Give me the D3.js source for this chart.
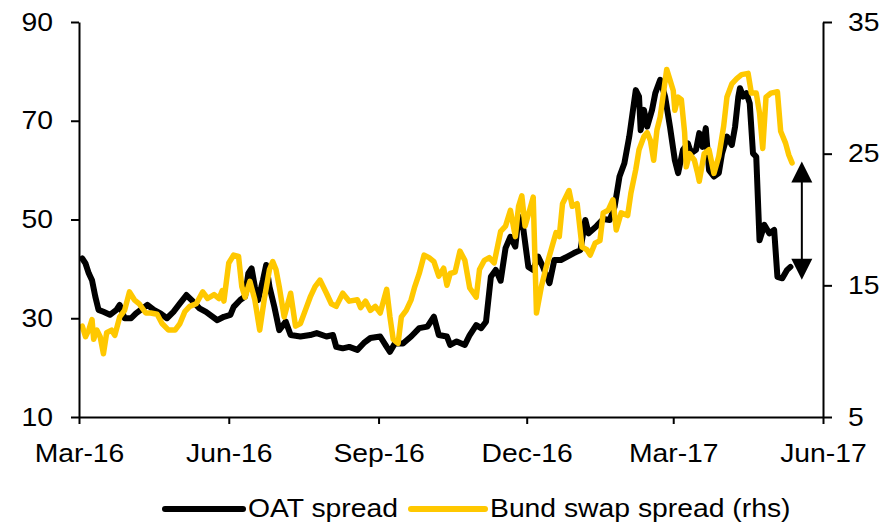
<!DOCTYPE html>
<html>
<head>
<meta charset="utf-8">
<script src="https://cdn.jsdelivr.net/npm/d3@7"></script>
<style>
  body { margin: 0; background: #fff; }
  svg text { font-family: "Liberation Sans", Arial, sans-serif; font-size: 25.5px; fill: #000; }
</style>
</head>
<body>
<div id="chart"></div>
<script>
// OAT spread (lhs, bp)
const oatDates = ["2016-03-03","2016-03-05","2016-03-07","2016-03-09","2016-03-11","2016-03-13","2016-03-16","2016-03-20","2016-03-24","2016-03-26","2016-03-29","2016-04-02","2016-04-05","2016-04-12","2016-04-16","2016-04-20","2016-04-24","2016-04-28","2016-05-02","2016-05-06","2016-05-10","2016-05-14","2016-05-18","2016-05-25","2016-05-29","2016-06-02","2016-06-04","2016-06-08","2016-06-11","2016-06-13","2016-06-15","2016-06-17","2016-06-19","2016-06-22","2016-06-24","2016-06-26","2016-06-29","2016-07-02","2016-07-06","2016-07-09","2016-07-15","2016-07-21","2016-07-25","2016-07-31","2016-08-04","2016-08-06","2016-08-10","2016-08-14","2016-08-19","2016-08-23","2016-08-27","2016-09-02","2016-09-06","2016-09-08","2016-09-11","2016-09-16","2016-09-21","2016-09-26","2016-10-01","2016-10-05","2016-10-08","2016-10-13","2016-10-15","2016-10-19","2016-10-24","2016-10-27","2016-10-31","2016-11-03","2016-11-06","2016-11-09","2016-11-12","2016-11-15","2016-11-18","2016-11-21","2016-11-24","2016-11-26","2016-11-29","2016-12-02","2016-12-05","2016-12-08","2016-12-11","2016-12-15","2016-12-18","2016-12-22","2016-12-26","2016-12-30","2017-01-03","2017-01-06","2017-01-08","2017-01-13","2017-01-17","2017-01-21","2017-01-24","2017-01-27","2017-01-30","2017-02-02","2017-02-06","2017-02-08","2017-02-09","2017-02-11","2017-02-13","2017-02-16","2017-02-18","2017-02-21","2017-02-24","2017-02-27","2017-03-02","2017-03-04","2017-03-07","2017-03-10","2017-03-12","2017-03-15","2017-03-17","2017-03-19","2017-03-21","2017-03-23","2017-03-26","2017-03-29","2017-03-31","2017-04-03","2017-04-06","2017-04-08","2017-04-10","2017-04-11","2017-04-13","2017-04-15","2017-04-17","2017-04-19","2017-04-21","2017-04-23","2017-04-26","2017-04-29","2017-05-02","2017-05-04","2017-05-07","2017-05-10","2017-05-12"];
const oatValues = [42.1,41.1,39.1,37.7,34.4,31.7,31.3,30.7,31.7,32.7,30.0,30.0,31.0,32.7,31.7,31.0,30.0,31.3,33.0,34.7,33.4,32.0,31.3,29.6,30.3,30.7,32.3,33.7,34.4,39.1,40.1,36.4,33.7,37.7,40.8,36.4,32.3,27.6,29.3,26.6,26.3,26.6,27.0,26.3,26.6,24.2,23.9,24.2,23.6,25.0,26.0,26.3,24.2,23.2,24.9,24.9,26.3,28.0,28.3,30.3,26.6,26.3,24.6,25.3,24.6,26.6,28.6,28.0,29.3,38.4,39.8,37.6,44.2,46.5,44.5,50.6,47.9,40.4,39.8,42.5,40.4,37.1,41.8,41.8,42.5,43.2,43.8,49.9,47.2,48.7,50.1,49.9,52.6,58.7,61.4,66.8,76.2,74.9,68.1,72.2,68.8,72.2,75.6,78.3,74.9,68.8,62.0,59.4,64.1,65.4,63.4,64.1,67.5,64.7,68.5,60.0,58.7,59.4,63.4,66.8,65.1,68.8,74.9,76.6,74.9,75.6,73.5,63.4,62.7,45.8,48.9,47.2,47.9,38.4,38.1,39.8,40.4];

// Bund swap spread (rhs, bp)
const bundDates = ["2016-03-03","2016-03-05","2016-03-07","2016-03-09","2016-03-10","2016-03-12","2016-03-14","2016-03-16","2016-03-18","2016-03-21","2016-03-23","2016-03-26","2016-03-29","2016-04-01","2016-04-04","2016-04-07","2016-04-11","2016-04-14","2016-04-18","2016-04-21","2016-04-25","2016-04-29","2016-05-02","2016-05-05","2016-05-08","2016-05-12","2016-05-16","2016-05-19","2016-05-23","2016-05-26","2016-05-28","2016-05-29","2016-06-01","2016-06-04","2016-06-07","2016-06-09","2016-06-11","2016-06-14","2016-06-17","2016-06-20","2016-06-23","2016-06-26","2016-06-28","2016-06-30","2016-07-02","2016-07-05","2016-07-09","2016-07-12","2016-07-15","2016-07-18","2016-07-21","2016-07-24","2016-07-27","2016-07-31","2016-08-03","2016-08-06","2016-08-10","2016-08-14","2016-08-19","2016-08-21","2016-08-24","2016-08-27","2016-08-30","2016-09-02","2016-09-06","2016-09-08","2016-09-10","2016-09-13","2016-09-15","2016-09-18","2016-09-21","2016-09-23","2016-09-26","2016-09-29","2016-10-02","2016-10-05","2016-10-08","2016-10-11","2016-10-13","2016-10-15","2016-10-18","2016-10-21","2016-10-24","2016-10-27","2016-10-31","2016-11-02","2016-11-05","2016-11-08","2016-11-11","2016-11-15","2016-11-18","2016-11-21","2016-11-24","2016-11-26","2016-11-28","2016-11-30","2016-12-03","2016-12-05","2016-12-07","2016-12-10","2016-12-13","2016-12-16","2016-12-19","2016-12-21","2016-12-23","2016-12-27","2016-12-29","2017-01-01","2017-01-04","2017-01-07","2017-01-09","2017-01-12","2017-01-15","2017-01-17","2017-01-20","2017-01-23","2017-01-25","2017-01-28","2017-02-01","2017-02-03","2017-02-06","2017-02-08","2017-02-11","2017-02-13","2017-02-15","2017-02-17","2017-02-19","2017-02-21","2017-02-23","2017-02-25","2017-02-27","2017-03-01","2017-03-02","2017-03-04","2017-03-06","2017-03-08","2017-03-09","2017-03-11","2017-03-14","2017-03-16","2017-03-17","2017-03-20","2017-03-23","2017-03-26","2017-03-29","2017-04-01","2017-04-03","2017-04-06","2017-04-09","2017-04-12","2017-04-16","2017-04-18","2017-04-21","2017-04-23","2017-04-25","2017-04-27","2017-04-30","2017-05-04","2017-05-06","2017-05-09","2017-05-11","2017-05-13"];
const bundValues = [11.9,11.1,11.6,12.4,10.9,11.6,11.1,9.8,11.4,11.6,11.2,12.6,13.1,14.5,13.9,13.6,12.9,12.9,12.8,12.1,11.6,11.6,12.1,13.0,13.4,13.6,14.5,14.0,14.3,14.0,14.6,13.8,16.7,17.3,17.2,14.9,14.1,15.3,13.9,11.6,14.1,16.2,16.8,16.2,14.9,12.6,14.4,11.9,12.1,13.1,14.1,14.9,15.4,14.4,13.6,13.4,14.4,13.8,13.9,13.3,13.8,13.1,13.4,12.9,14.7,12.6,10.9,10.6,12.6,13.1,13.9,14.8,15.9,17.3,17.1,16.8,15.7,16.3,15.0,15.9,16.0,17.6,16.9,14.8,14.1,16.2,16.9,17.1,16.7,19.1,19.5,20.7,18.7,21.0,21.8,19.5,20.8,21.7,12.9,14.9,16.4,17.7,19.0,18.7,21.2,22.2,21.0,21.2,17.9,17.7,17.3,18.2,18.4,20.5,20.7,21.5,19.2,20.5,20.3,22.0,23.8,25.3,26.3,26.6,26.0,24.5,26.8,27.8,29.6,31.4,30.6,29.8,28.3,29.3,29.1,26.6,24.0,25.0,24.5,23.5,22.9,25.0,25.3,23.5,24.8,27.1,29.3,30.3,30.7,31.0,31.1,29.6,29.6,28.1,25.4,29.3,29.6,29.7,26.7,25.8,24.9,24.3];

const xTicks = ["2016-03-01","2016-06-01","2016-09-01","2016-12-01","2017-03-01","2017-06-01"];
const leftTicks = [10, 30, 50, 70, 90];
const rightTicks = [5, 15, 25, 35];
const seriesNames = ["OAT spread", "Bund swap spread (rhs)"];
const seriesColors = ["#000000", "#FFC800"];

// gap arrow: top at Bund (rhs) level, bottom at OAT (lhs) level
const arrowDate = "2017-05-19";
const arrowTopRhs = 24.4;
const arrowBottomLhs = 37.8;

const W = 893, H = 523;
const m = {left: 79, right: 823, top: 22, bottom: 417};
const STRETCH = 1.11;

const parse = d3.utcParse("%Y-%m-%d");
const fmt = d3.utcFormat("%b-%y");

const svg = d3.select("#chart").append("svg")
  .attr("width", W).attr("height", H);

const x = d3.scaleUtc().domain([parse(xTicks[0]), parse(xTicks[xTicks.length - 1])]).range([m.left, m.right]);
const yL = d3.scaleLinear().domain([10, 90]).range([m.bottom, m.top]);
const yR = d3.scaleLinear().domain([5, 35]).range([m.bottom, m.top]);

// widen text a bit, the original font is set wider than it is tall
function stretch(sel) {
  sel.each(function() {
    const w = this.getComputedTextLength();
    d3.select(this).attr("textLength", w * STRETCH).attr("lengthAdjust", "spacingAndGlyphs");
  });
}

// lines
const oat = oatDates.map((d, i) => ({date: parse(d), v: oatValues[i]}));
const bund = bundDates.map((d, i) => ({date: parse(d), v: bundValues[i]}));

svg.append("path").datum(oat)
  .attr("fill", "none").attr("stroke", seriesColors[0]).attr("stroke-width", 6)
  .attr("stroke-linejoin", "round").attr("stroke-linecap", "round")
  .attr("d", d3.line().x(d => x(d.date)).y(d => yL(d.v)));

svg.append("path").datum(bund)
  .attr("fill", "none").attr("stroke", seriesColors[1]).attr("stroke-width", 5.5)
  .attr("stroke-linejoin", "round").attr("stroke-linecap", "round")
  .attr("d", d3.line().x(d => x(d.date)).y(d => yR(d.v)));

// axes
const axisStyle = g => {
  g.attr("font-size", null).attr("font-family", null);
  g.select(".domain").attr("stroke", "#000").attr("stroke-width", 2);
  g.selectAll(".tick line").attr("stroke", "#000").attr("stroke-width", 2);
  g.selectAll(".tick text").attr("fill", "#000");
};

const gx = svg.append("g").attr("transform", `translate(0,${m.bottom})`)
  .call(d3.axisBottom(x).tickValues(xTicks.map(parse)).tickFormat(fmt).tickSize(7).tickSizeOuter(0).tickPadding(20))
  .call(axisStyle);
gx.selectAll(".tick text").attr("dy", "0.71em").call(stretch);

const gl = svg.append("g").attr("transform", `translate(${m.left},0)`)
  .call(d3.axisLeft(yL).tickValues(leftTicks).tickSize(8).tickSizeOuter(0).tickPadding(18))
  .call(axisStyle);
gl.selectAll(".tick text").call(stretch);

const gr = svg.append("g").attr("transform", `translate(${m.right},0)`)
  .call(d3.axisRight(yR).tickValues(rightTicks).tickSize(9).tickSizeOuter(0).tickPadding(16))
  .call(axisStyle);
gr.selectAll(".tick text").call(stretch);

// arrow
const ax = x(parse(arrowDate));
const yTop = yR(arrowTopRhs), yBot = yL(arrowBottomLhs);
const head = 21, half = 10.5;
svg.append("line")
  .attr("x1", ax).attr("x2", ax).attr("y1", yTop + head - 2).attr("y2", yBot - head + 2)
  .attr("stroke", "#000").attr("stroke-width", 2);
svg.append("path")
  .attr("d", `M${ax},${yTop}L${ax - half},${yTop + head}L${ax + half},${yTop + head}Z`)
  .attr("fill", "#000");
svg.append("path")
  .attr("d", `M${ax},${yBot}L${ax - half},${yBot - head}L${ax + half},${yBot - head}Z`)
  .attr("fill", "#000");

// legend
const legendY = 509;
const legendItems = [
  {name: seriesNames[0], color: seriesColors[0], x0: 165, x1: 243},
  {name: seriesNames[1], color: seriesColors[1], x0: 411, x1: 485}
];
const lg = svg.append("g").attr("class", "legend");
legendItems.forEach(function(it) {
  lg.append("line")
    .attr("x1", it.x0).attr("x2", it.x1).attr("y1", legendY).attr("y2", legendY)
    .attr("stroke", it.color).attr("stroke-width", 6).attr("stroke-linecap", "round");
  lg.append("text")
    .attr("x", it.x1 + 5).attr("y", legendY + 8)
    .text(it.name)
    .call(stretch);
});
</script>
</body>
</html>
